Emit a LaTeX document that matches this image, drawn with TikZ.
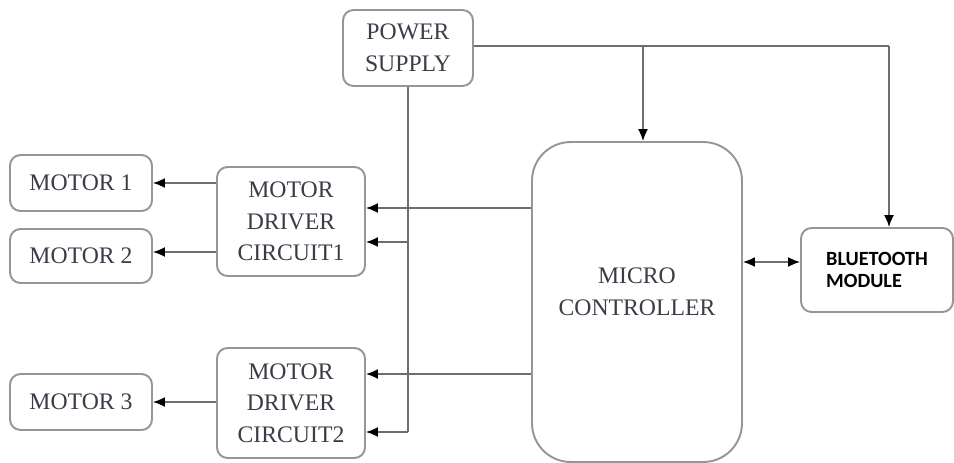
\documentclass[tikz,border=0pt]{standalone}
\usepackage{fontspec}
\setmainfont{Liberation Serif}
\newfontfamily\btfont{Carlito}
\usetikzlibrary{arrows.meta}
\definecolor{edgegray}{RGB}{150,150,150}
\definecolor{linegray}{RGB}{110,110,110}
\definecolor{textgray}{RGB}{60,60,72}
\begin{document}
\begin{tikzpicture}[
            x=0.02cm, y=-0.02cm,
            block/.style={rectangle, rounded corners=6pt, draw=edgegray, line width=1.1pt, fill=white,
                text=textgray, font=\fontsize{13.5}{18}\selectfont, align=center, inner sep=0pt},
            wire/.style={draw=linegray, line width=1pt},
            feed/.style={wire, -{Latex[length=2.4mm, width=2mm, color=black]}}
        ]
            \useasboundingbox (0,0) rectangle (954,463);
            \node[block, minimum width=2.6cm, minimum height=1.52cm] (ps) at (408,48) {POWER\\SUPPLY};
            \node[block, minimum width=2.84cm, minimum height=1.12cm] (m1) at (81,183) {MOTOR 1};
            \node[block, minimum width=2.84cm, minimum height=1.08cm] (m2) at (81,256) {MOTOR 2};
            \node[block, minimum width=2.84cm, minimum height=1.12cm] (m3) at (81,402) {MOTOR 3};
            \node[block, minimum width=2.96cm, minimum height=2.18cm] (d1) at (291,221.5) {MOTOR\\DRIVER\\CIRCUIT1};
            \node[block, minimum width=2.96cm, minimum height=2.2cm] (d2) at (291,403) {MOTOR\\DRIVER\\CIRCUIT2};
            \node[block, rounded corners=22pt, minimum width=4.2cm, minimum height=6.4cm] (mc) at (637,302) {};
            \node[text=textgray, font=\fontsize{13.5}{18}\selectfont, align=center] (mct) at (637,292) {MICRO\\CONTROLLER};
            \node[block, minimum width=3.04cm, minimum height=1.68cm, text=black,
                font=\btfont\bfseries\fontsize{11.5}{13}\selectfont, align=left] (bt) at (877,270) {BLUETOOTH\\MODULE};

            % power rails
            \coordinate (top) at (643,46);
            \coordinate (corner) at (889,46);
            \coordinate (rail) at (408,432);
            \draw[wire] (ps.east |- top) -- (corner);
            \draw[feed] (top) -- (top |- mc.north);
            \draw[feed] (corner) -- (corner |- bt.north);
            \draw[wire] (ps.south) -- (rail);
            \draw[feed] (rail |- 0,242) -- (d1.east |- 0,242);
            \draw[feed] (rail) -- (d2.east |- rail);

            % control lines
            \draw[feed] (mc.west |- 0,208) -- (d1.east |- 0,208);
            \draw[feed] (mc.west |- 0,374) -- (d2.east |- 0,374);
            \draw[wire, {Latex[length=2.4mm, width=2mm, color=black]}-{Latex[length=2.4mm, width=2mm, color=black]}] (mc.east |- 0,262) -- (bt.west |- 0,262);

            % motors
            \draw[feed] (d1.west |- m1) -- (m1.east);
            \draw[feed] (d1.west |- 0,252) -- (m2.east |- 0,252);
            \draw[feed] (d2.west |- m3) -- (m3.east);

        \end{tikzpicture}
\end{document}
